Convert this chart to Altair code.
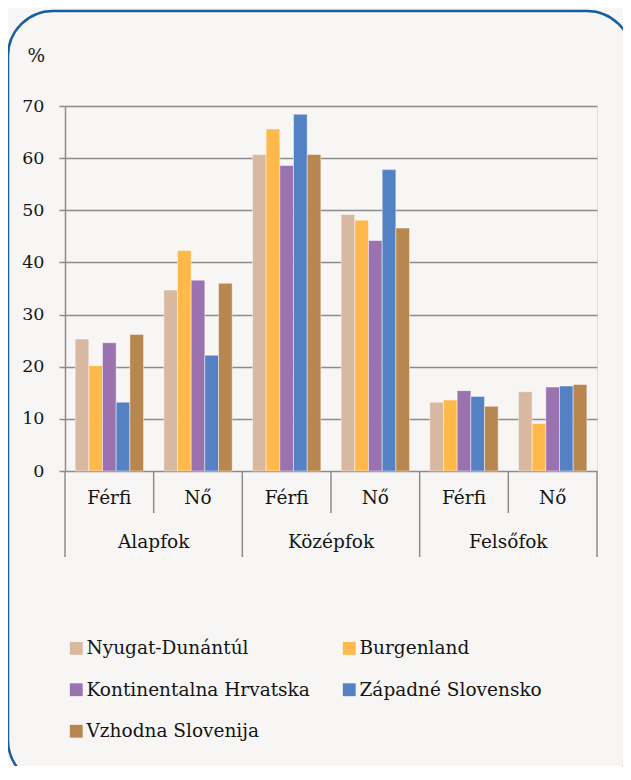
import altair as alt
import pandas as pd

# ---- data ----
levels = ["Alapfok", "Alapfok", "Középfok", "Középfok", "Felsőfok", "Felsőfok"]
sexes = ["Férfi", "Nő", "Férfi", "Nő", "Férfi", "Nő"]
series = ["Nyugat-Dunántúl", "Burgenland", "Kontinentalna Hrvatska",
          "Západné Slovensko", "Vzhodna Slovenija"]
colors = ["#d8b8a0", "#ffb84a", "#9b72b0", "#5480c4", "#b8874f"]

nyugat = [25.3, 34.7, 60.7, 49.2, 13.2, 15.2]
burgenland = [20.2, 42.3, 65.6, 48.1, 13.6, 9.1]
kontinentalna = [24.6, 36.6, 58.6, 44.2, 15.4, 16.1]
zapadne = [13.2, 22.2, 68.4, 57.8, 14.3, 16.3]
vzhodna = [26.2, 36.0, 60.7, 46.6, 12.4, 16.6]

y_ticks = [0, 10, 20, 30, 40, 50, 60, 70]

FONT = "DejaVu Serif"
FS = 18.5
GRID = "#8c8c8c"
TXT = "#141414"

cats = [f"{l}|{s}" for l, s in zip(levels, sexes)]
rows = []
for name, vals in zip(series, [nyugat, burgenland, kontinentalna, zapadne, vzhodna]):
    for c, v in zip(cats, vals):
        rows.append({"cat": c, "series": name, "value": v})
bars_df = pd.DataFrame(rows)
cat_df = pd.DataFrame({"cat": cats, "level": levels, "sex": sexes})
major_df = cat_df[cat_df["sex"] == "Férfi"]
minor_df = cat_df[cat_df["sex"] == "Nő"]
end_df = cat_df.iloc[[-1]]

x_scale = alt.Scale(domain=cats, paddingInner=0, paddingOuter=0)
xo_scale = alt.Scale(domain=series, paddingInner=0, paddingOuter=0.74)

bars = alt.Chart(bars_df).mark_bar(
    stroke="#ffffff", strokeOpacity=0.45, strokeWidth=1
).encode(
    x=alt.X("cat:N", scale=x_scale, sort=cats, axis=None),
    xOffset=alt.XOffset("series:N", scale=xo_scale, sort=series),
    y=alt.Y("value:Q", scale=alt.Scale(domain=[0, 70]),
            axis=alt.Axis(values=y_ticks, title="%", titleAngle=0, titleX=-38, titleY=-51,
                          titleAlign="left", titleBaseline="middle", titleFontWeight="normal",
                          titleFontSize=FS, titleFont=FONT, titleColor=TXT,
                          labelFont=FONT, labelFontSize=17.5, labelColor=TXT, labelPadding=15,
                          tickSize=6, tickColor=GRID, tickWidth=1.5,
                          domainColor=GRID, domainWidth=1.5,
                          grid=True, gridColor=GRID, gridWidth=1.5)),
    color=alt.Color("series:N", scale=alt.Scale(domain=series, range=colors), sort=series,
                    legend=alt.Legend(title=None, orient="none", legendX=2, legendY=533,
                                      direction="horizontal",
                                      columns=2, columnPadding=30, rowPadding=22.5,
                                      symbolType="square", symbolSize=165, symbolStrokeWidth=0,
                                      labelFont=FONT, labelFontSize=FS, labelColor=TXT,
                                      labelOffset=1, labelLimit=400, padding=0)),
)

sex_text = alt.Chart(cat_df).mark_text(font=FONT, fontSize=FS, color=TXT, baseline="middle").encode(
    x=alt.X("cat:N", scale=x_scale, sort=cats, axis=None),
    y=alt.value(392),
    text="sex:N",
)

level_text = alt.Chart(minor_df).mark_text(font=FONT, fontSize=FS, color=TXT, baseline="middle").encode(
    x=alt.X("cat:N", scale=x_scale, sort=cats, axis=None, bandPosition=0),
    y=alt.value(436),
    text="level:N",
)

major_rules = alt.Chart(major_df).mark_rule(color=GRID, strokeWidth=1.5).encode(
    x=alt.X("cat:N", scale=x_scale, sort=cats, axis=None, bandPosition=0),
    y=alt.value(365), y2=alt.value(451),
)
minor_rules = alt.Chart(minor_df).mark_rule(color=GRID, strokeWidth=1.5).encode(
    x=alt.X("cat:N", scale=x_scale, sort=cats, axis=None, bandPosition=0),
    y=alt.value(365), y2=alt.value(407),
)
end_rule = alt.Chart(end_df).mark_rule(color=GRID, strokeWidth=1.5).encode(
    x=alt.X("cat:N", scale=x_scale, sort=cats, axis=None, bandPosition=1),
    y=alt.value(365), y2=alt.value(451),
)

frame = alt.Chart(pd.DataFrame({"f": [1]})).mark_rect(
    cornerRadius=45, fill="transparent", stroke="#1a5e9e", strokeWidth=2.5
).encode(
    x=alt.value(-57), x2=alt.value(567), y=alt.value(-95), y2=alt.value(679),
)

chart = alt.layer(
    bars, major_rules, minor_rules, end_rule, sex_text, level_text, frame
).properties(
    width=532, height=365,
    autosize=alt.AutoSizeParams(type="none"),
    padding={"left": 57, "top": 98, "right": 26, "bottom": 295},
    background="#f7f6f4",
).configure_view(
    stroke=GRID, strokeWidth=1.5
).configure(font=FONT)

chart.save("out.html", embed_options={"renderer": "svg", "actions": False})
